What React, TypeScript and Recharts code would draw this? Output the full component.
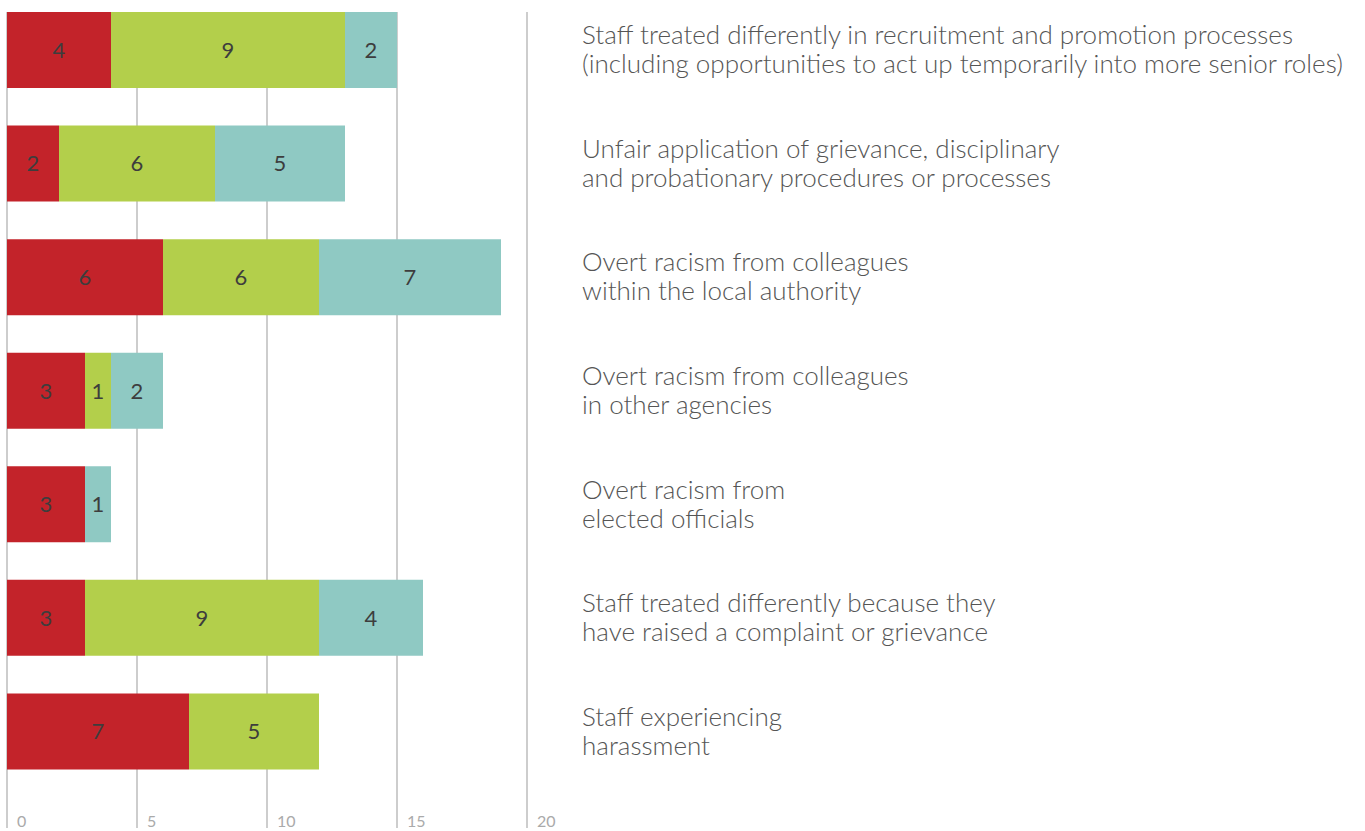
import React from 'react';
import { BarChart, Bar, XAxis, YAxis, CartesianGrid, LabelList } from 'recharts';

const categories = [
  'Staff treated differently in recruitment and promotion processes\n(including opportunities to act up temporarily into more senior roles)',
  'Unfair application of grievance, disciplinary\nand probationary procedures or processes',
  'Overt racism from colleagues\nwithin the local authority',
  'Overt racism from colleagues\nin other agencies',
  'Overt racism from\nelected officials',
  'Staff treated differently because they\nhave raised a complaint or grievance',
  'Staff experiencing\nharassment',
];

const redValues = [4, 2, 6, 3, 3, 3, 7];
const greenValues = [9, 6, 6, 1, 0, 9, 5];
const tealValues = [2, 5, 7, 2, 1, 4, 0];

const xTicks = [0, 5, 10, 15, 20];

const data = categories.map((name, i) => ({
  name,
  red: redValues[i],
  green: greenValues[i],
  teal: tealValues[i],
}));

const FONT = 'Lato, "Open Sans", sans-serif';

const hideZero = (v: any) => (v ? v : '');

function CategoryTick(props: any) {
  const { x, y, payload } = props;
  const lines = String(payload.value).split('\n');
  const lh = 29;
  const start = y - 1 - ((lines.length - 1) * lh) / 2;
  return (
    <text x={x + 55} y={start} fill="#555" fontSize={26} fontWeight={300} fontFamily={FONT}>
      {lines.map((l, i) => (
        <tspan key={i} x={x + 55} y={start + i * lh} dominantBaseline="central">
          {l}
        </tspan>
      ))}
    </text>
  );
}

function ValueTick(props: any) {
  const { x, y, payload } = props;
  return (
    <text x={x + 10} y={y + 39} fill="#aaa" fontSize={16} fontFamily={FONT} textAnchor="start">
      {payload.value}
    </text>
  );
}

export default function App() {
  return (
    <div style={{ position: 'absolute', left: 0, top: -7, background: '#fff' }}>
      <BarChart
        width={1365}
        height={838}
        data={data}
        layout="vertical"
        margin={{ top: 0, right: 0, bottom: 13, left: 7 }}
        barSize={76}
      >
        <CartesianGrid horizontal={false} stroke="#bdbdbd" strokeWidth={1.5} y={19} height={816} />
        <XAxis
          type="number"
          domain={[0, 20]}
          ticks={xTicks}
          axisLine={false}
          tickLine={false}
          tickSize={0}
          tickMargin={0}
          height={30}
          tick={<ValueTick />}
          interval={0}
        />
        <YAxis
          type="category"
          dataKey="name"
          orientation="right"
          width={838}
          axisLine={false}
          tickLine={false}
          tickSize={0}
          tickMargin={0}
          tick={<CategoryTick />}
          interval={0}
        />
        <Bar dataKey="red" stackId="a" fill="#c3232a" isAnimationActive={false}>
          <LabelList dataKey="red" position="center" fill="#3d3d3d" fontSize={22} fontFamily={FONT} formatter={hideZero} />
        </Bar>
        <Bar dataKey="green" stackId="a" fill="#b3cf4b" isAnimationActive={false}>
          <LabelList dataKey="green" position="center" fill="#3d3d3d" fontSize={22} fontFamily={FONT} formatter={hideZero} />
        </Bar>
        <Bar dataKey="teal" stackId="a" fill="#8fc9c3" isAnimationActive={false}>
          <LabelList dataKey="teal" position="center" fill="#3d3d3d" fontSize={22} fontFamily={FONT} formatter={hideZero} />
        </Bar>
      </BarChart>
    </div>
  );
}
